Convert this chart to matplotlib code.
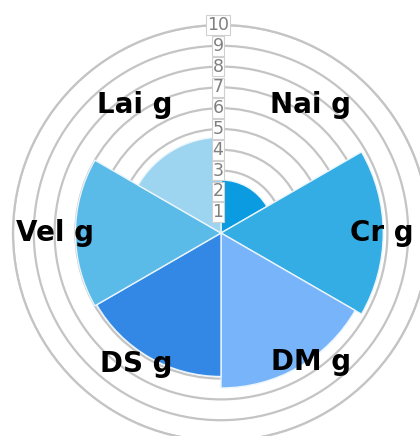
"""Rose chart of the six g values"""
import numpy as np
import matplotlib
matplotlib.use('Agg')
import matplotlib.pyplot as plt
import matplotlib.transforms as mtransforms

labels = ['Nai g', 'Cr g', 'DM g', 'DS g', 'Vel g', 'Lai g']
values = [2.55, 7.8, 7.45, 6.9, 7.0, 4.6]
colors = ['#0a9be0', '#33ade3', '#78b4fa', '#3388e6', '#5bbbe8', '#9dd5f0']
r_ticks = [1, 2, 3, 4, 5, 6, 7, 8, 9, 10]
# where the category names sit (degrees clockwise from north, radius)
label_deg = [35, 90, 145, 213, 270, 326]
label_r = [7.5, 7.75, 7.55, 7.5, 8.0, 7.4]

fig = plt.figure(figsize=(4.2, 4.36), dpi=100)
ax = fig.add_axes([13 / 420, -5 / 436, 416 / 420, 416 / 436], projection='polar')
ax.set_theta_zero_location('N')
ax.set_theta_direction(-1)

n = len(values)
width = 2 * np.pi / n
theta = np.arange(n) * width + width / 2
ax.bar(theta, values, width=width, color=colors, edgecolor='#eaf5fc', linewidth=1.0, zorder=2)

ax.set_ylim(0, 10)
ax.set_yticks(r_ticks)
ax.set_yticklabels([])
ax.set_xticks([])
ax.set_axisbelow(True)
ax.yaxis.grid(True, color='#c4c4c4', linewidth=1.6)
ax.xaxis.grid(False)
ax.spines['polar'].set_color('#c4c4c4')
ax.spines['polar'].set_linewidth(1.6)

# radial tick labels up the vertical axis
shift = mtransforms.offset_copy(ax.transData, fig=fig, x=-3, y=0, units='dots')
for r in r_ticks:
    ax.text(0, r, str(r), transform=shift, ha='center', va='center', fontsize=12.5,
            color='#808080', zorder=5,
            bbox={'facecolor': 'white', 'edgecolor': '#d0d0d0', 'linewidth': 0.8, 'pad': 0.6})

for lab, d, r in zip(labels, label_deg, label_r):
    ax.text(np.deg2rad(d), r, lab, ha='center', va='center', fontsize=20,
            fontweight='bold', color='black', zorder=6)

fig.savefig('out.png', dpi=100)
